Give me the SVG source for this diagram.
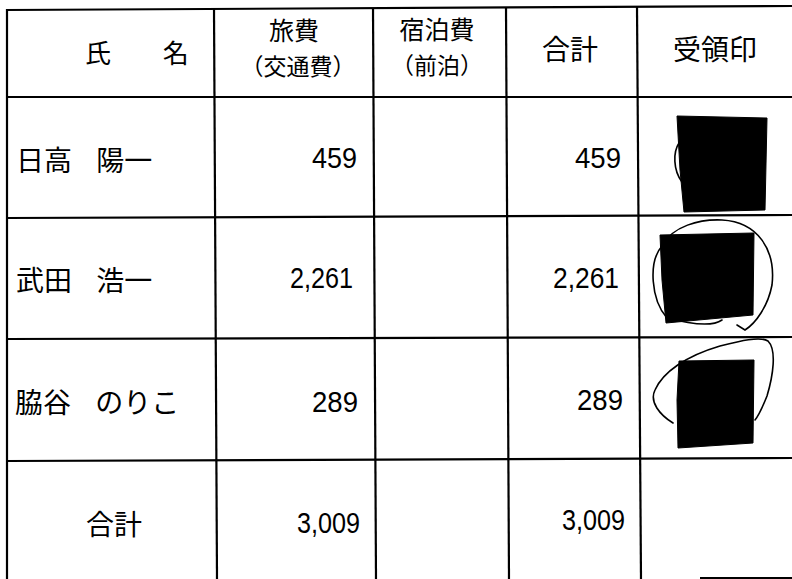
<svg xmlns="http://www.w3.org/2000/svg" width="792" height="579" viewBox="0 0 792 579">
<style>
.grid line{stroke:#000;stroke-width:2.2}
.jp{font-family:"Noto Sans CJK JP","Noto Sans CJK SC",sans-serif;font-size:28px;fill:#000}
.hd{font-family:"Noto Sans CJK JP","Noto Sans CJK SC",sans-serif;font-size:28px;fill:#000;text-anchor:middle}
.hd2{font-family:"Noto Sans CJK JP","Noto Sans CJK SC",sans-serif;font-size:23px;fill:#000;text-anchor:middle}
.num{font-family:"Liberation Sans",Arial,sans-serif;font-size:29px;fill:#000}
.seal{fill:#000;stroke:#000;stroke-width:1;stroke-linejoin:round}
.ring{fill:none;stroke:#000;stroke-width:1.6;stroke-linecap:round}
</style>
<rect width="792" height="579" fill="#fff"/>
<g id="grid" class="grid">
<line x1="6" y1="10" x2="792" y2="6"/>
<line x1="7" y1="97" x2="792" y2="97"/>
<line x1="7" y1="218" x2="792" y2="215"/>
<line x1="7" y1="339" x2="792" y2="337"/>
<line x1="7" y1="461" x2="792" y2="458"/>
<line x1="700" y1="578" x2="792" y2="578"/>
<line x1="7" y1="9" x2="7" y2="579"/>
<line x1="214" y1="9" x2="217" y2="579"/>
<line x1="373" y1="8" x2="376" y2="579"/>
<line x1="506" y1="8" x2="509" y2="579"/>
<line x1="637" y1="7" x2="641" y2="579"/>
</g>
<g id="header">
<text class="jp" x="85" y="63" style="font-size:26px;word-spacing:46px">氏 名</text>
<text class="hd2" x="294" y="40" style="font-size:25px">旅費</text>
<text class="hd2" x="298" y="75">（交通費）</text>
<text class="hd2" x="437" y="39" style="font-size:25px">宿泊費</text>
<text class="hd2" x="437" y="74">（前泊）</text>
<text class="hd" x="570" y="60">合計</text>
<text class="hd" x="715" y="60">受領印</text>
</g>
<g id="row-hidaka">
<text class="jp" x="16" y="171" style="word-spacing:18px">日高 陽一</text>
<text class="num" x="312" y="168" textLength="45" lengthAdjust="spacingAndGlyphs">459</text>
<text class="num" x="575" y="168" textLength="46" lengthAdjust="spacingAndGlyphs">459</text>
<polygon class="seal" points="677,116 767,118 765,210 684,212 680,170"/>
<path class="ring" d="M679,143 C673,152 673,170 682,182"/>
</g>
<g id="row-takeda">
<text class="jp" x="16" y="291" style="word-spacing:18px">武田 浩一</text>
<text class="num" x="290" y="288" textLength="63" lengthAdjust="spacingAndGlyphs">2,261</text>
<text class="num" x="553" y="288" textLength="66" lengthAdjust="spacingAndGlyphs">2,261</text>
<polygon class="seal" points="660,235 754,233 753,315 666,323 662,280"/>
<path class="ring" d="M722,320 C712,327 690,324 667,318 C651,300 648,262 662,246 C672,226 700,219 722,220 C758,222 776,250 772,285 C768,306 756,323 745,330 L737,325"/>
</g>
<g id="row-wakiya">
<text class="jp" x="15" y="413" style="word-spacing:18px">脇谷 のりこ</text>
<text class="num" x="312" y="412" textLength="46" lengthAdjust="spacingAndGlyphs">289</text>
<text class="num" x="577" y="410" textLength="46" lengthAdjust="spacingAndGlyphs">289</text>
<polygon class="seal" points="679,361 754,360 753,443 678,448 677,400"/>
<path class="ring" d="M673,423 C660,415 649,402 655,390 C663,372 686,356 720,346 C740,341 760,336 768,341 C777,350 773,376 767,396 C763,406 759,415 755,420"/>
</g>
<g id="row-total">
<text class="hd" x="114" y="535">合計</text>
<text class="num" x="297" y="533" textLength="63" lengthAdjust="spacingAndGlyphs">3,009</text>
<text class="num" x="562" y="530" textLength="63" lengthAdjust="spacingAndGlyphs">3,009</text>
</g>
</svg>
